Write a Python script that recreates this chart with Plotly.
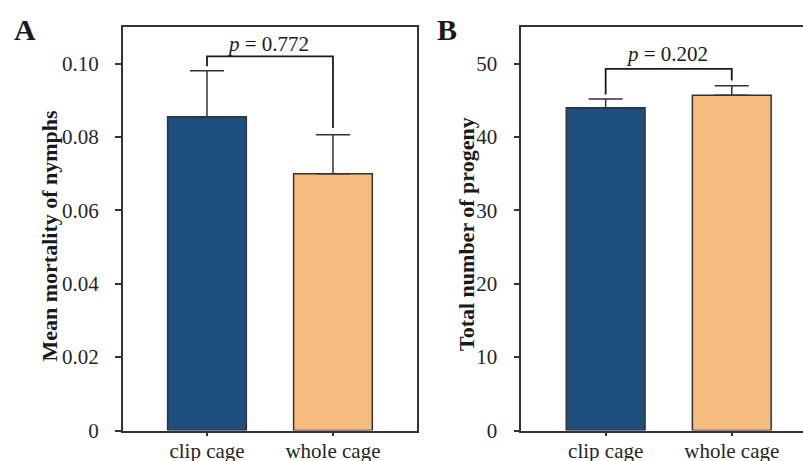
import plotly.graph_objects as go

W, H = 803, 461

categories = ["clip cage", "whole cage"]
bar_colors = ["#1c4f7e", "#f6bb7e"]

# Panel A: mean mortality of nymphs
mortality_mean = [0.0855, 0.0700]
mortality_err = [0.0126, 0.0106]
bracket_A_top = 0.102
bracket_A_legs = [0.0993, 0.0825]
p_A = "<i>p</i> = 0.772"

# Panel B: total number of progeny
progeny_mean = [44.0, 45.7]
progeny_err = [1.2, 1.3]
bracket_B_top = 49.3
bracket_B_legs = [45.8, 47.7]
p_B = "<i>p</i> = 0.202"

yticks_A = [0, 0.02, 0.04, 0.06, 0.08, 0.10]
yticklabels_A = ["0", "0.02", "0.04", "0.06", "0.08", "0.10"]
yticks_B = [0, 10, 20, 30, 40, 50]
yticklabels_B = ["0", "10", "20", "30", "40", "50"]

FONT = "Liberation Serif"
INK = "#262626"

def px_x(x):
    return x / W

def px_y(y):
    return 1 - y / H

fig = go.Figure()

def add_panel(xa, ya, means, errs, btop, blegs):
    fig.add_trace(go.Bar(
        x=categories, y=means, width=0.625,
        marker=dict(color=bar_colors, line=dict(color="#333333", width=1.5)),
        error_y=dict(type="data", array=errs, arrayminus=[0] * len(errs),
                     symmetric=False, color="#333333", thickness=1.5, width=17),
        xaxis=xa, yaxis=ya, showlegend=False,
    ))
    fig.add_trace(go.Scatter(
        x=[categories[0], categories[0], categories[1], categories[1]],
        y=[blegs[0], btop, btop, blegs[1]],
        mode="lines", line=dict(color="#1a1a1a", width=1.8),
        xaxis=xa, yaxis=ya, showlegend=False, hoverinfo="skip",
    ))

add_panel("x", "y", mortality_mean, mortality_err, bracket_A_top, bracket_A_legs)
add_panel("x2", "y2", progeny_mean, progeny_err, bracket_B_top, bracket_B_legs)

ydom = [px_y(430.5), px_y(27)]
axis_common = dict(showline=True, linecolor="#333333", linewidth=1.5,
                   ticks="outside", tickcolor="#333333", tickwidth=1.5,
                   showgrid=False, zeroline=False, automargin=False,
                   tickfont=dict(family=FONT, size=21, color=INK))

fig.update_layout(
    width=W, height=H,
    margin=dict(l=0, r=0, t=0, b=0, pad=0),
    paper_bgcolor="white", plot_bgcolor="white",
    xaxis=dict(domain=[px_x(122.7), px_x(417)], range=[-0.669, 1.667],
               mirror=True, ticklen=4, ticklabelstandoff=-3, anchor="y", **axis_common),
    yaxis=dict(domain=ydom, range=[0, 0.11], tickvals=yticks_A, ticktext=yticklabels_A,
               mirror=True, ticklen=6, ticklabelstandoff=12, anchor="x", **axis_common),
    xaxis2=dict(domain=[px_x(521.3), 1.0], range=[-0.669, 1.565],
                mirror=True, ticklen=4, ticklabelstandoff=-3, anchor="y2", **axis_common),
    yaxis2=dict(domain=ydom, range=[0, 55], tickvals=yticks_B, ticktext=yticklabels_B,
                ticklen=6, ticklabelstandoff=12, anchor="x2", **axis_common),
)

ann = [
    dict(text="<b>A</b>", x=px_x(25), y=px_y(30), size=30),
    dict(text="<b>B</b>", x=px_x(447), y=px_y(30), size=30),
    dict(text=p_A, x=px_x(268), y=px_y(44), size=21),
    dict(text=p_B, x=px_x(667), y=px_y(54), size=21),
]
for a in ann:
    fig.add_annotation(text=a["text"], x=a["x"], y=a["y"], xref="paper", yref="paper",
                       xanchor="center", yanchor="middle", showarrow=False,
                       font=dict(family=FONT, size=a["size"], color="#1a1a1a"))

fig.add_annotation(text="<b>Mean mortality of nymphs</b>", x=px_x(49), y=px_y(235.5),
                   xref="paper", yref="paper", textangle=-90, showarrow=False,
                   xanchor="center", yanchor="middle",
                   font=dict(family=FONT, size=22, color="#1a1a1a"))
fig.add_annotation(text="<b>Total number of progeny</b>", x=px_x(466), y=px_y(234),
                   xref="paper", yref="paper", textangle=-90, showarrow=False,
                   xanchor="center", yanchor="middle",
                   font=dict(family=FONT, size=22, color="#1a1a1a"))

fig.write_html("out.html")
